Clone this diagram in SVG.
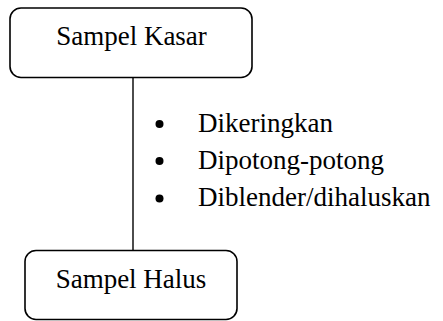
<svg xmlns="http://www.w3.org/2000/svg" width="443" height="321" viewBox="0 0 443 321">
<style>
.box{fill:#fff;stroke:#000;stroke-width:1.6}
.t{font-family:"Liberation Serif","Times New Roman",serif;font-size:27px;fill:#000}
.conn{stroke:#000;stroke-width:1.4;fill:none}
</style>
<rect width="443" height="321" fill="#fff"/>
<g id="connectors">
<line class="conn" x1="133" y1="78" x2="133" y2="250"/>
</g>
<g id="sampel-kasar">
<rect class="box" x="10" y="8" width="242" height="69.5" rx="11"/>
<text class="t" x="131.5" y="45" text-anchor="middle">Sampel Kasar</text>
</g>
<g id="sampel-halus">
<rect class="box" x="25" y="250.5" width="212" height="69" rx="11"/>
<text class="t" x="131" y="288" text-anchor="middle">Sampel Halus</text>
</g>
<g id="steps">
<circle cx="159.5" cy="124" r="4"/>
<circle cx="159.5" cy="161" r="4"/>
<circle cx="159.5" cy="198.5" r="4"/>
<text class="t" x="198" y="131.5">Dikeringkan</text>
<text class="t" x="198" y="168.5">Dipotong-potong</text>
<text class="t" x="198" y="206">Diblender/dihaluskan</text>
</g>
</svg>
